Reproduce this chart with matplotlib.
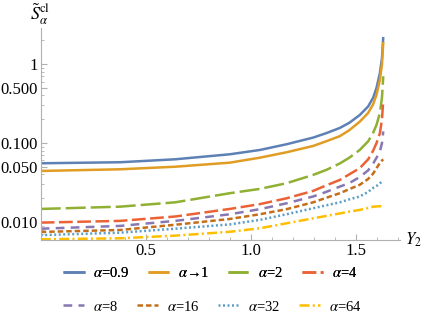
import numpy as np
import matplotlib
matplotlib.use("Agg")
import matplotlib.pyplot as plt
from matplotlib.ticker import FixedLocator, NullFormatter

plt.rcParams['font.family'] = ['Liberation Serif', 'DejaVu Serif']
plt.rcParams['mathtext.fontset'] = 'stix'

# values (log scale)
y2 = [0, 0.378, 0.64, 0.901, 1.044, 1.171, 1.298, 1.36, 1.425, 1.47, 1.52, 1.56, 1.584, 1.6, 1.616, 1.626, 1.632]

s_09 = [0.0553, 0.057, 0.0621, 0.0719, 0.0815, 0.0963, 0.117, 0.133, 0.155, 0.18, 0.226, 0.29, 0.375, 0.5, 0.77, 1.2, 2.2]
s_1 = [0.0442, 0.0464, 0.05, 0.0563, 0.0651, 0.0762, 0.0917, 0.105, 0.122, 0.145, 0.186, 0.24, 0.31, 0.41, 0.63, 1.0, 1.9]
s_2 = [0.0146, 0.0156, 0.0177, 0.0231, 0.0262, 0.0309, 0.0394, 0.0455, 0.055, 0.065, 0.0815, 0.105, 0.135, 0.17, 0.24, 0.38, 0.7]
s_4 = [0.0098, 0.0103, 0.0117, 0.0146, 0.0168, 0.0199, 0.0247, 0.029, 0.034, 0.04, 0.048, 0.062, 0.08, 0.1, 0.133, 0.2, 0.35]
s_8 = [0.0082, 0.0089, 0.0103, 0.0125, 0.0145, 0.0172, 0.021, 0.024, 0.028, 0.031, 0.037, 0.045, 0.055, 0.065, 0.078, 0.1, 0.14]
s_16 = [0.00746, 0.0079, 0.0092, 0.0109, 0.0125, 0.0145, 0.0177, 0.0202, 0.0231, 0.026, 0.0295, 0.035, 0.041, 0.048, 0.056, 0.06, 0.062]
s_32 = [0.0068, 0.0073, 0.0082, 0.0093, 0.0106, 0.0125, 0.0149, 0.0162, 0.0177, 0.0193, 0.021, 0.024, 0.027, 0.0285, 0.031, 0.032, 0.033]
s_64 = [0.00602, 0.0062, 0.0067, 0.0075, 0.0083, 0.0096, 0.0111, 0.0119, 0.0128, 0.0135, 0.0142, 0.015, 0.0156, 0.0157, 0.0158, 0.0158, 0.0157]

labels = [r"$\alpha$=0.9", r"$\alpha$→1", r"$\alpha$=2", r"$\alpha$=4",
          r"$\alpha$=8", r"$\alpha$=16", r"$\alpha$=32", r"$\alpha$=64"]
series = [s_09, s_1, s_2, s_4, s_8, s_16, s_32, s_64]
colors = ["#5E81B5", "#E19C24", "#8FB032", "#EB6235",
          "#8778B3", "#C56E1A", "#5D9EC7", "#FFBF00"]
dashes = [None, None, (8, 2), (5.5, 1.8), (3.5, 2.5), (2.2, 1.2), (0.8, 1.0), (4, 1.3, 0.8, 1.3)]

fig = plt.figure(figsize=(4.25, 3.2), dpi=100)
ax = fig.add_axes([0.0958, 0.25, 0.845, 0.6625])

lines = []
for s, lab, c, d in zip(series, labels, colors, dashes):
    ln, = ax.plot(y2, s, color=c, lw=1.8, label=lab, solid_capstyle='butt',
                  solid_joinstyle='round')
    if d is not None:
        ln.set_dashes(d)
        ln.set_dash_capstyle('butt')
    lines.append(ln)

ax.set_yscale('log')
ax.set_xlim(0, 1.711)
ax.set_ylim(0.0059, 2.86)

for sp in ['top', 'right']:
    ax.spines[sp].set_visible(False)
for sp in ['left', 'bottom']:
    ax.spines[sp].set_color('#b0b0b0')
    ax.spines[sp].set_linewidth(0.8)

ax.xaxis.set_major_locator(FixedLocator([0.5, 1.0, 1.5]))
ax.xaxis.set_minor_locator(FixedLocator([0.1, 0.2, 0.3, 0.4, 0.6, 0.7, 0.8, 0.9,
                                         1.1, 1.2, 1.3, 1.4, 1.6, 1.7]))
ax.set_xticklabels(["0.5", "1.0", "1.5"])

ymaj = [0.01, 0.05, 0.1, 0.5, 1]
ax.yaxis.set_major_locator(FixedLocator(ymaj))
ax.set_yticklabels(["0.010", "0.050", "0.100", "0.500", "1"])
ymin = [0.006, 0.007, 0.008, 0.009, 0.02, 0.03, 0.04, 0.06, 0.07, 0.08, 0.09,
        0.2, 0.3, 0.4, 0.6, 0.7, 0.8, 0.9, 2]
ax.yaxis.set_minor_locator(FixedLocator(ymin))
ax.yaxis.set_minor_formatter(NullFormatter())

ax.tick_params(which='both', direction='in', color='#b0b0b0', labelsize=12, pad=2)
ax.tick_params(which='major', length=4, width=0.8)
ax.tick_params(which='minor', length=2.5, width=0.6)

fig.text(0.07, 0.955, r"$\tilde{S}_{\alpha}^{\rm cl}$", fontsize=13, ha='left', va='center')
fig.text(0.952, 0.25, r"$Y_2$", fontsize=12, ha='left', va='center')

kw = dict(ncol=4, loc='center', frameon=False, fontsize=10.5, handlelength=1.45,
          handletextpad=0.6, columnspacing=1.3)
leg1 = fig.legend(lines[:4], labels[:4], bbox_to_anchor=(0.495, 0.148), **kw)
fig.add_artist(leg1)
fig.legend(lines[4:], labels[4:], bbox_to_anchor=(0.50, 0.042), **kw)

fig.savefig("out.png", dpi=100)
